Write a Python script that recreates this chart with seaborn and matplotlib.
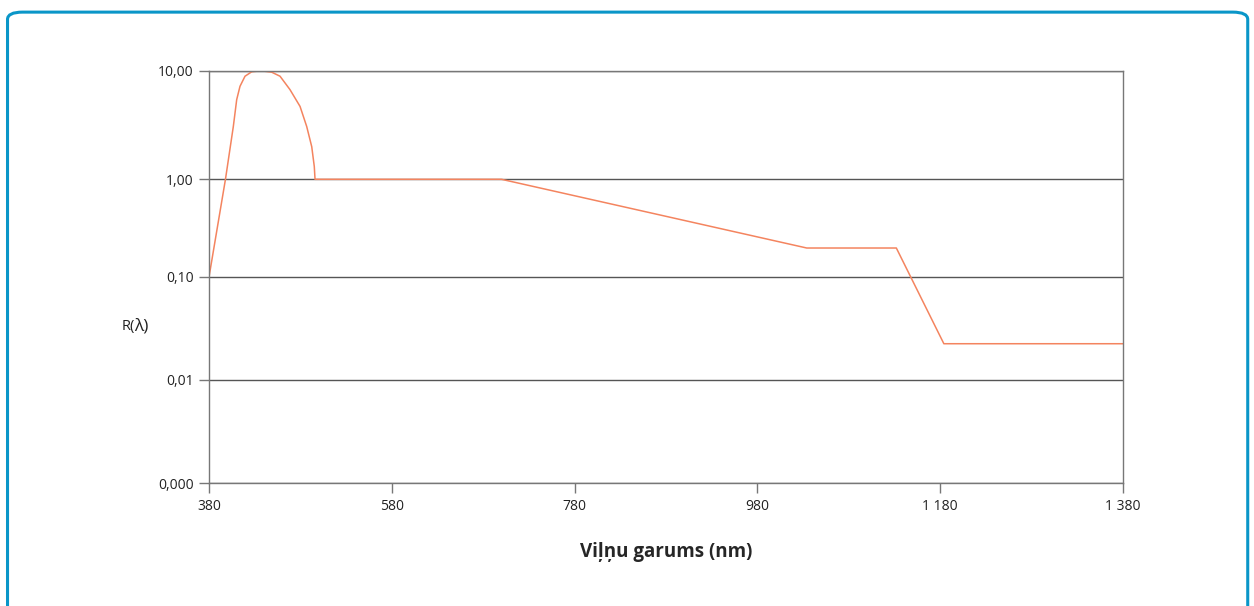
import numpy as np
import pandas as pd
import seaborn as sns
import matplotlib.pyplot as plt
from matplotlib.patches import FancyBboxPatch
from matplotlib.ticker import FixedLocator, NullLocator

# vilnu garums (nm) un R(lambda) vertibas, nolasitas no grafika
wavelength = [380, 398, 406.6, 410.3, 413.9, 419.4, 426.7, 434, 441, 448.6, 457.7, 468.6,
              479.6, 486.9, 492.4, 495.2, 496, 700, 1034, 1132, 1184, 1380]
r_value = [0.1, 1.0, 3.07, 5.44, 7.22, 8.95, 9.83, 10.0, 9.95, 9.75, 8.95, 6.73,
           4.71, 3.07, 2.0, 1.31, 1.0, 1.0, 0.198, 0.198, 0.0225, 0.0225]

x_ticks = [380, 580, 780, 980, 1180, 1380]
x_tick_labels = ["380", "580", "780", "980", "1 180", "1 380"]
y_ticks = [0.001, 0.01, 0.1, 1, 10]
y_tick_labels = ["0,000", "0,01", "0,10", "1,00", "10,00"]

# dekades originala nav gluzi vienadi izvietotas (pikseli no apaksas)
decade_log = [-3, -2, -1, 0, 1]
decade_pos = [0, 103.5, 206.5, 304.2, 412.5]


def fwd(y):
    y = np.clip(np.asarray(y, dtype=float), 1e-12, None)
    return np.interp(np.log10(y), decade_log, decade_pos)


def inv(v):
    return 10 ** np.interp(v, decade_pos, decade_log)


df = pd.DataFrame({"nm": wavelength, "R": r_value})

sns.set_style("white")
plt.rcParams["font.family"] = ["Open Sans", "DejaVu Sans"]

fig = plt.figure(figsize=(12.54, 6.06), dpi=100)
ax = fig.add_axes([0.16667, 0.20215, 0.72887, 0.68069])

sns.lineplot(data=df, x="nm", y="R", color="#f4845f", linewidth=1.1, ax=ax)
ax.lines[0].set_solid_joinstyle("round")

ax.set_yscale("function", functions=(fwd, inv))
ax.set_xlim(380, 1380)
ax.set_ylim(0.001, 10)
ax.xaxis.set_major_locator(FixedLocator(x_ticks))
ax.set_xticklabels(x_tick_labels)
ax.yaxis.set_major_locator(FixedLocator(y_ticks))
ax.yaxis.set_minor_locator(NullLocator())
ax.set_yticklabels(y_tick_labels)

ax.grid(axis="y", color="#555555", linewidth=1.0)
ax.grid(axis="x", visible=False)
for s in ax.spines.values():
    s.set_color("#777777")
    s.set_linewidth(1.0)
ax.tick_params(axis="both", direction="out", length=7, width=1.0, color="#777777",
               labelsize=10, labelcolor="#222222", pad=4, left=True, bottom=True)

ax.set_xlabel("Viļņu garums (nm)", fontsize=13.5, fontweight="bold", labelpad=20)
ax.set_ylabel("")
fig.text(0.097, 0.461, "R(", fontsize=10.5, ha="left", va="center", color="#222222")
fig.text(0.1072, 0.461, "λ)", fontsize=12.5, ha="left", va="center", color="#222222")

# zila ramja apkart
frame = FancyBboxPatch((0.006, -0.05), 0.989, 1.03, boxstyle="round,pad=0,rounding_size=0.012",
                       transform=fig.transFigure, fill=False, edgecolor="#0a96c8",
                       linewidth=2.2, clip_on=False)
fig.patches.append(frame)

plt.savefig("out.png", dpi=100)
